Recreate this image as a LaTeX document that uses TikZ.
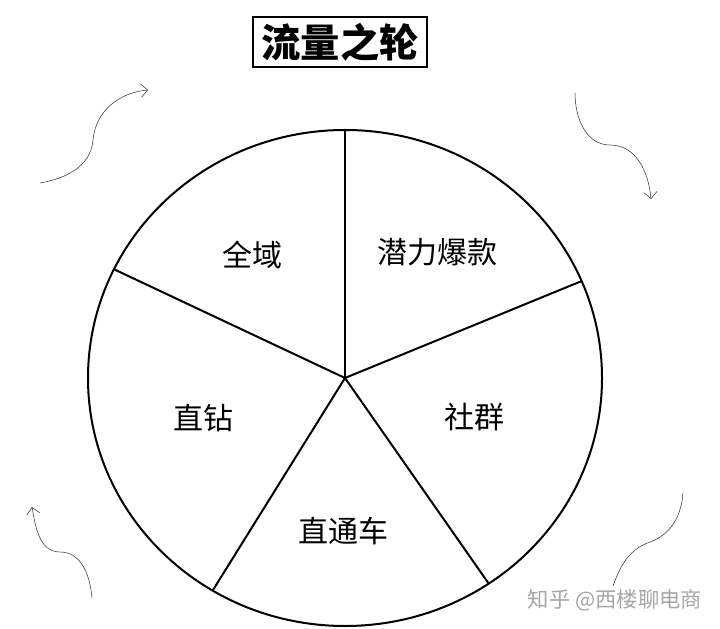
\documentclass[tikz,border=0pt]{standalone}
\usepackage{fontspec}
\newfontfamily\cjk{Noto Sans CJK SC}
\usetikzlibrary{arrows.meta}
\begin{document}
\begin{tikzpicture}[x=0.75pt,y=0.75pt]
\useasboundingbox (0,0) rectangle (720,628);
\coordinate (c) at (345,250);
\draw[line width=1.5pt] (c) ellipse [x radius=257, y radius=248];
\path (c) ++(90:257 and 248) coordinate (sp0);
\path (c) ++(23:257 and 248) coordinate (sp1);
\path (c) ++(-56:257 and 248) coordinate (sp2);
\path (c) ++(-121:257 and 248) coordinate (sp3);
\path (c) ++(154:257 and 248) coordinate (sp4);
\draw[line width=1.5pt](c) -- (sp0);
\draw[line width=1.5pt](c) -- (sp1);
\draw[line width=1.5pt](c) -- (sp2);
\draw[line width=1.5pt](c) -- (sp3);
\draw[line width=1.5pt](c) -- (sp4);
\node[font=\cjk\fontsize{22.5}{22.5}\selectfont] (seg0) at (252,373) {全域};
\node[font=\cjk\fontsize{22.5}{22.5}\selectfont] (seg1) at (437,376) {潜力爆款};
\node[font=\cjk\fontsize{22.5}{22.5}\selectfont] (seg2) at (474,211) {社群};
\node[font=\cjk\fontsize{22.5}{22.5}\selectfont] (seg3) at (343,97) {直通车};
\node[font=\cjk\fontsize{22.5}{22.5}\selectfont] (seg4) at (203,210) {直钻};
\node[draw, line width=1.5pt, minimum width=130pt, minimum height=37pt, font=\cjk\bfseries\fontsize{29.5}{29.5}\selectfont] (title) at (340,586) {流量之轮};
\node[text=black!35, font=\cjk\fontsize{16}{16}\selectfont] (mark) at (615,28) {知乎 @西楼聊电商};
\coordinate (a0) at (40,445);
\coordinate (a1) at (93,488);
\coordinate (a2) at (148,538);
\draw[black!80, -{Straight Barb[length=5pt]}](a0) to[out=10,in=-95] (a1) to[out=85,in=185] (a2);
\coordinate (b0) at (575,535);
\coordinate (b1) at (610,483);
\coordinate (b2) at (651,429);
\draw[black!80, -{Straight Barb[length=5pt]}](b0) to[out=-90,in=180] (b1) to[out=0,in=95] (b2);
\coordinate (d0) at (92,30);
\coordinate (d1) at (60,76);
\coordinate (d2) at (32,121);
\draw[black!80, -{Straight Barb[length=5pt]}](d0) to[out=95,in=0] (d1) to[out=180,in=-80] (d2);
\coordinate (e0) at (613,42);
\coordinate (e1) at (650,86);
\coordinate (e2) at (683,135);
\draw[black!80](e0) to[out=70,in=200] (e1) to[out=20,in=-95] (e2);
\end{tikzpicture}
\end{document}
